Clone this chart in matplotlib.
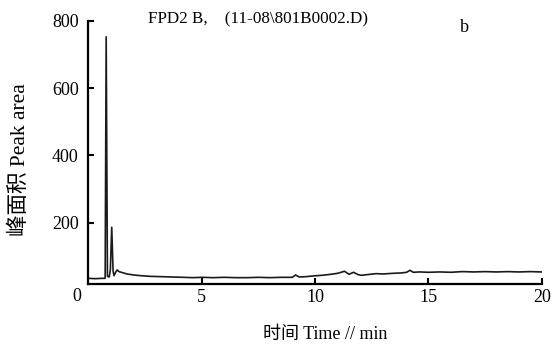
import matplotlib
matplotlib.use('Agg')
import matplotlib.pyplot as plt

plt.rcParams['font.family'] = ['Liberation Serif', 'Noto Sans CJK SC']

# chromatogram (time in min, signal)
times = [0.0, 0.3, 0.6, 0.74, 0.785, 0.84, 0.92, 0.97, 1.03, 1.09, 1.13, 1.2,
         1.27, 1.35, 1.5, 1.7, 2.0, 2.3, 2.7, 3.2, 3.7, 4.2, 4.6, 5.0, 5.5,
         6.0, 6.5, 7.0, 7.5, 8.0, 8.5, 9.0, 9.14, 9.3, 9.6, 9.9, 10.3, 10.7,
         11.0, 11.3, 11.5, 11.7, 11.9, 12.05, 12.3, 12.7, 13.0, 13.45, 13.8,
         14.04, 14.19, 14.33, 14.6, 15.0, 15.5, 16.0, 16.5, 17.0, 17.5, 18.0,
         18.5, 19.0, 19.5, 20.0]
signal = [34, 33, 34, 34, 753, 40, 38, 60, 186, 55, 42, 52,
          59, 54, 51, 47, 44, 42, 40, 39, 38, 37, 36, 37, 36,
          37, 36, 36, 37, 36, 37, 37, 44, 38, 39, 41, 43, 46,
          49, 55, 46, 52, 45, 43, 45, 48, 47, 49, 50,
          52, 58, 52, 53, 52, 53, 52, 54, 53, 54, 53,
          54, 53, 54, 53]

x_ticks = [5, 10, 15, 20]
y_ticks = [200, 400, 600, 800]

fig = plt.figure(figsize=(5.58, 3.47), dpi=100)
ax = fig.add_axes([0.1584, 0.1824, 0.8124, 0.7571])

ax.plot(times, signal, color='#1a1a1a', linewidth=1.2)

ax.set_xlim(0, 20)
ax.set_ylim(18, 800)
ax.set_xticks(x_ticks)
ax.set_yticks(y_ticks)
ax.tick_params(direction='in', length=4, width=1.5, labelsize=13)
ax.tick_params(axis='y', pad=7)
ax.tick_params(axis='x', pad=4)

ax.spines['top'].set_visible(False)
ax.spines['right'].set_visible(False)
ax.spines['left'].set_linewidth(1.6)
ax.spines['bottom'].set_linewidth(1.6)

# shared origin label
ax.annotate('0', xy=(0, 18), xytext=(-8, -9.5), textcoords='offset points',
            ha='center', va='center', fontsize=13)

ax.text(0.131, 1.008, 'FPD2 B,    (11-08\\801B0002.D)', transform=ax.transAxes,
        fontsize=12.3, va='center', ha='left')
ax.text(0.829, 0.977, 'b', transform=ax.transAxes, fontsize=13,
        va='center', ha='center')

ax.set_xlabel('时间 Time // min', fontsize=13, va='center')
ax.set_ylabel('峰面积 Peak area', fontsize=15.5, va='center')
ax.xaxis.set_label_coords(0.522, -0.195)
ax.yaxis.set_label_coords(-0.151, 0.471)

fig.savefig('out.png', dpi=100, facecolor='white')
